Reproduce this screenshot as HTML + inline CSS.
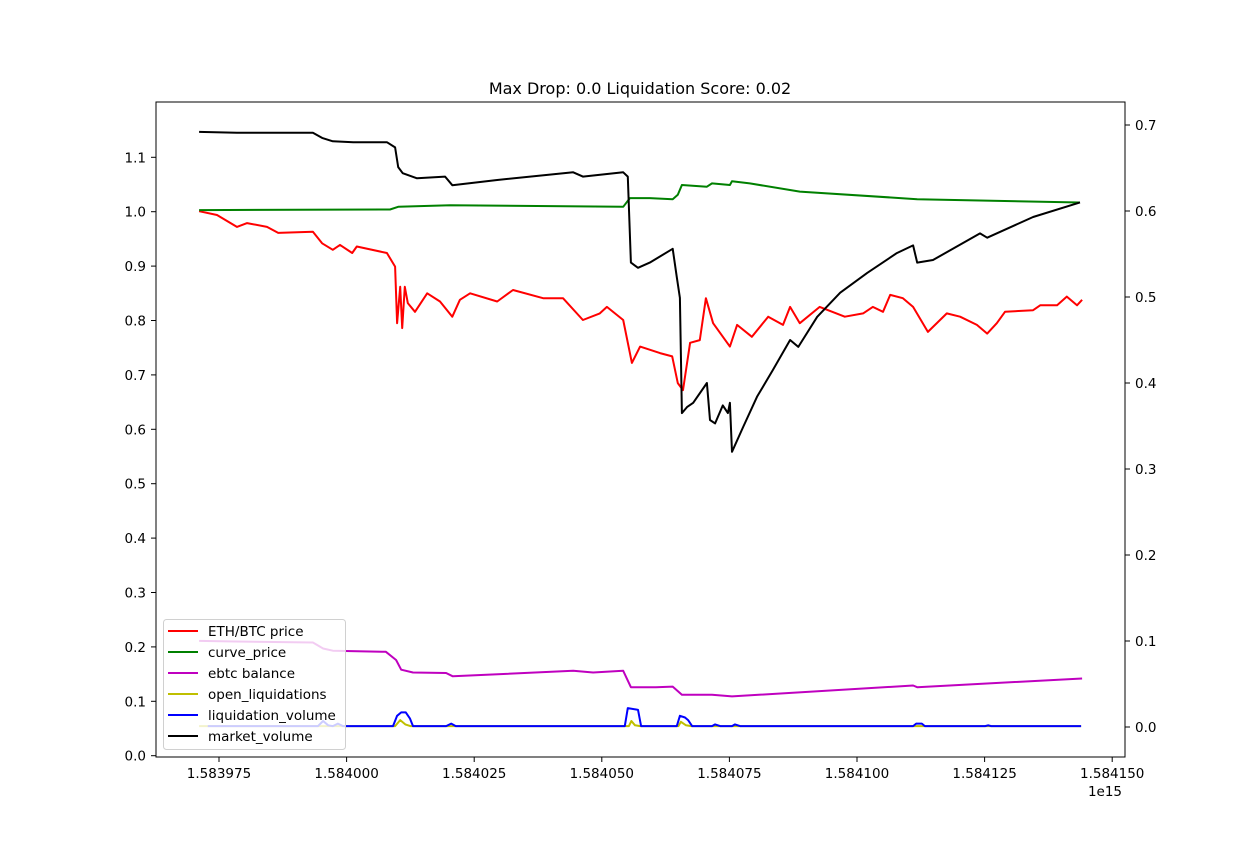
<!DOCTYPE html>
<html><head><meta charset="utf-8"><style>
html,body{margin:0;padding:0;background:#fff;}
svg text{font-family:"DejaVu Sans","Liberation Sans",sans-serif;fill:#000;}
</style></head><body>
<svg id="chart" width="1250" height="850" viewBox="0 0 1250 850" xmlns="http://www.w3.org/2000/svg">
<rect width="1250" height="850" fill="#fff"/>
<text x="640" y="94" font-size="16" text-anchor="middle">Max Drop: 0.0 Liquidation Score: 0.02</text>
<g id="marks"></g>
<rect x="156" y="102" width="969" height="655" fill="none" stroke="#000" stroke-width="1"/>
<g id="axes"></g>
<g id="legend"></g>
</svg>
<script>
// x in units of 1e-6 relative offset: value = 1.583975e15 + t*1e9
const xTicks = [0,25,50,75,100,125,150,175];
const xTickLabels = ["1.583975","1.584000","1.584025","1.584050","1.584075","1.584100","1.584125","1.584150"];
const leftTicks = [0,0.1,0.2,0.3,0.4,0.5,0.6,0.7,0.8,0.9,1.0,1.1];
const leftTickLabels = ["0.0","0.1","0.2","0.3","0.4","0.5","0.6","0.7","0.8","0.9","1.0","1.1"];
const rightTicks = [0,0.1,0.2,0.3,0.4,0.5,0.6,0.7];
const rightTickLabels = ["0.0","0.1","0.2","0.3","0.4","0.5","0.6","0.7"];

const redT = [-3.9,-0.4,3.5,5.5,9.4,11.6,18.4,20.2,22.3,23.7,26.1,27.0,32.9,34.5,34.9,35.5,35.9,36.4,37.0,38.4,40.8,43.3,45.7,47.2,49.2,54.5,57.6,63.5,67.4,71.3,74.6,76.0,79.2,80.9,82.5,86.4,88.8,89.9,90.9,92.3,94.2,95.4,96.8,100.1,101.5,104.4,107.6,110.5,111.9,113.8,117.7,122.6,126.2,128.1,130.1,131.5,134.0,136.0,138.9,142.6,145.2,148.5,150.5,152.4,154.0,159.5,160.9,164.2,166.1,168.1,169.1];
const redV = [1.001,0.994,0.972,0.979,0.972,0.961,0.963,0.942,0.930,0.939,0.924,0.936,0.924,0.899,0.795,0.862,0.786,0.862,0.832,0.816,0.850,0.835,0.807,0.838,0.850,0.835,0.856,0.841,0.841,0.801,0.813,0.825,0.801,0.722,0.752,0.740,0.734,0.685,0.672,0.759,0.764,0.841,0.795,0.752,0.792,0.770,0.807,0.792,0.825,0.795,0.825,0.807,0.813,0.825,0.816,0.847,0.841,0.825,0.779,0.813,0.807,0.792,0.776,0.795,0.816,0.819,0.828,0.828,0.844,0.828,0.838];

const greenT = [-3.9,33.5,35.1,45.3,79.2,80.5,84.4,88.9,89.9,90.7,95.6,96.6,100.1,100.5,104.0,113.8,136.8,168.7];
const greenV = [1.003,1.004,1.009,1.012,1.009,1.025,1.025,1.023,1.031,1.049,1.046,1.052,1.049,1.056,1.052,1.037,1.023,1.017];

const magT = [-3.9,3.3,18.4,20.4,22.3,32.7,34.7,35.7,38.0,44.5,45.8,69.4,73.3,79.2,80.7,85.6,88.9,90.7,96.6,100.5,136.0,136.8,169.1];
const magV = [0.211,0.210,0.208,0.197,0.193,0.191,0.176,0.158,0.153,0.152,0.146,0.156,0.153,0.156,0.126,0.126,0.127,0.112,0.112,0.109,0.129,0.126,0.142];

const yelT = [-3.9,34.5,35.5,36.5,37.5,80.3,80.8,81.5,82.5,90.0,90.5,91.5,92.5,168.9];
const yelV = [0.001,0.001,0.008,0.003,0.001,0.001,0.007,0.002,0.001,0.001,0.006,0.002,0.001,0.001];

const blueT = [-2.2,19.4,20.4,21.4,22.3,23.3,24.3,34.1,34.9,35.7,36.6,37.4,38.0,44.5,45.5,46.4,79.5,80.1,82.1,82.7,89.7,90.3,91.3,91.9,92.7,96.6,97.2,98.2,100.5,101.1,102.1,136.0,136.6,137.7,138.3,150.1,150.7,151.3,168.9];
const blueV = [0.001,0.001,0.007,0.002,0.001,0.004,0.001,0.001,0.013,0.017,0.017,0.010,0.001,0.001,0.004,0.001,0.001,0.022,0.020,0.001,0.001,0.013,0.011,0.008,0.001,0.001,0.003,0.001,0.001,0.003,0.001,0.001,0.004,0.004,0.001,0.001,0.002,0.001,0.001];

const blackT = [-3.9,3.5,18.4,20.2,22.3,26.3,32.9,34.5,35.1,36.0,38.8,44.3,45.7,54.5,69.4,71.3,79.2,80.1,80.7,82.1,84.4,88.9,89.7,90.3,90.7,91.7,92.9,95.6,96.2,97.2,98.7,99.7,100.1,100.5,102.7,105.4,108.5,111.9,113.5,117.2,121.7,127.0,132.8,136.0,136.8,139.9,149.1,150.5,159.5,168.7];
const blackV = [0.692,0.691,0.691,0.685,0.681,0.680,0.680,0.674,0.651,0.644,0.638,0.640,0.630,0.636,0.645,0.640,0.645,0.640,0.540,0.534,0.540,0.556,0.523,0.499,0.365,0.372,0.377,0.400,0.357,0.353,0.374,0.365,0.377,0.320,0.349,0.384,0.415,0.450,0.442,0.477,0.505,0.528,0.551,0.560,0.540,0.543,0.574,0.569,0.593,0.610];

const NS = "http://www.w3.org/2000/svg";
function xS(t){ return 219 + t*5.104; }
function yL(v){ return 211.7 + (1 - v)*544; }
function yR(v){ return 727 - v*860; }
function mk(tag, attrs, parent){
  const e = document.createElementNS(NS, tag);
  for (const k in attrs) e.setAttribute(k, attrs[k]);
  parent.appendChild(e);
  return e;
}
const marks = document.getElementById('marks');
const axes = document.getElementById('axes');
function drawLine(ts, vs, yf, color, name){
  const d = ts.map((t,i)=> (i?'L':'M') + xS(t).toFixed(1) + ' ' + yf(vs[i]).toFixed(1)).join(' ');
  const p = mk('path', {d:d, fill:'none', stroke:color, 'stroke-width':2, 'stroke-linejoin':'round'}, marks);
  
  
}
drawLine(redT, redV, yL, '#ff0000', 'eth-btc-price-line');
drawLine(greenT, greenV, yL, '#008000', 'curve-price-line');
drawLine(magT, magV, yL, '#bf00bf', 'ebtc-balance-line');
drawLine(yelT, yelV, yR, '#bfbf00', 'open-liquidations-line');
drawLine(blueT, blueV, yR, '#0000ff', 'liquidation-volume-line');
drawLine(blackT, blackV, yR, '#000000', 'market-volume-line');

xTicks.forEach((t,i)=>{
  const x = xS(t);
  const tk = mk('line', {x1:x, x2:x, y1:757, y2:762, stroke:'#000'}, axes);
  
  
  const lb = mk('text', {x:x, y:778, 'font-size':13.5, 'text-anchor':'middle'}, axes);
  lb.textContent = xTickLabels[i];
  
  
});
const off = mk('text', {x:1105, y:796, 'font-size':13.5, 'text-anchor':'middle'}, axes);
off.textContent = '1e15';



leftTicks.forEach((v,i)=>{
  const y = yL(v);
  const tk = mk('line', {x1:151, x2:156, y1:y, y2:y, stroke:'#000'}, axes);
  
  
  const lb = mk('text', {x:146, y:y+5, 'font-size':13.5, 'text-anchor':'end'}, axes);
  lb.textContent = leftTickLabels[i];
  
  
});
rightTicks.forEach((v,i)=>{
  const y = yR(v);
  const tk = mk('line', {x1:1125, x2:1130, y1:y, y2:y, stroke:'#000'}, axes);
  
  
  const lb = mk('text', {x:1135, y:y+5, 'font-size':13.5, 'text-anchor':'start'}, axes);
  lb.textContent = rightTickLabels[i];
  
  
});

const legendNames = ["ETH/BTC price","curve_price","ebtc balance","open_liquidations","liquidation_volume","market_volume"];
const legendColors = ['#ff0000','#008000','#bf00bf','#bfbf00','#0000ff','#000000'];
const lg = document.getElementById('legend');
const box = mk('rect', {x:163.5, y:619.5, width:182, height:130, rx:3, fill:'#fff', 'fill-opacity':0.8, stroke:'#d0d0d0'}, lg);


legendNames.forEach((n,i)=>{
  const y = 631 + i*21;
  const ln = mk('line', {x1:168, x2:198, y1:y, y2:y, stroke:legendColors[i], 'stroke-width':2}, lg);
  
  
  const tx = mk('text', {x:208, y:y+5, 'font-size':13.5}, lg);
  tx.textContent = n;
  
  
});
</script>
</body></html>
